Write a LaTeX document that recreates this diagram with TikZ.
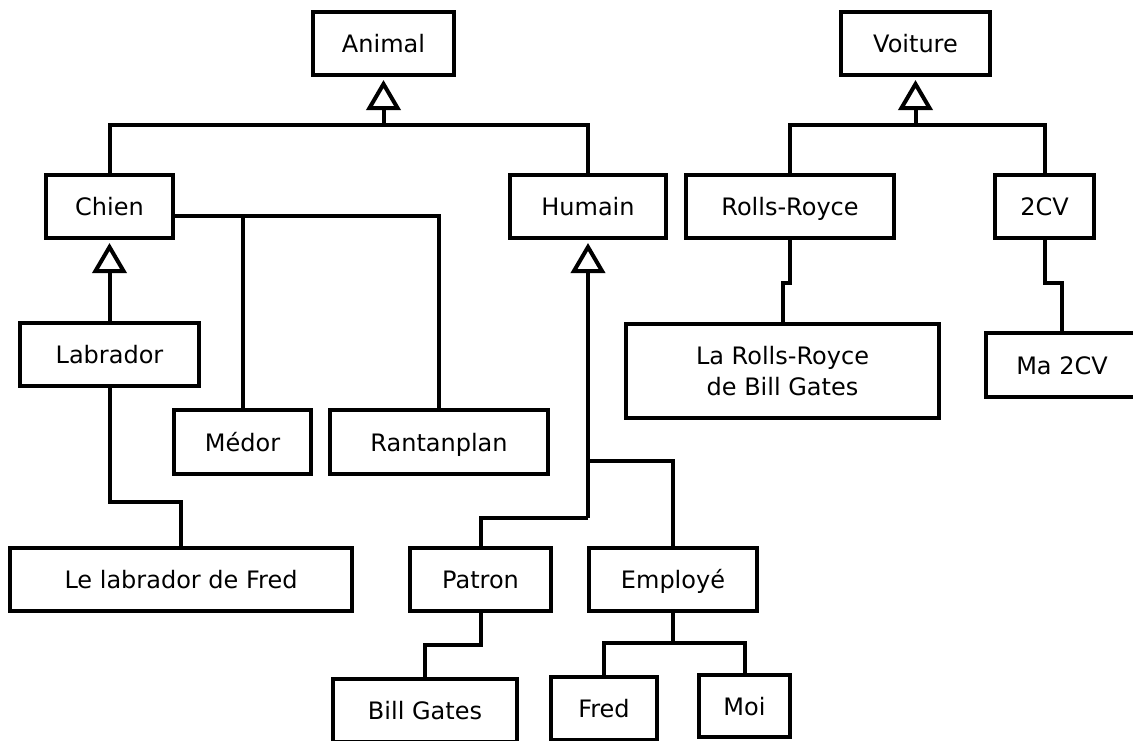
\documentclass[tikz,border=0pt]{standalone}
\usepackage{fontspec}
\setmainfont{DejaVu Sans}
\usetikzlibrary{arrows.meta}
\begin{document}
\begin{tikzpicture}[x=1pt,y=-1pt,
  boxbase/.style={draw,line width=4pt,inner sep=0pt,minimum height=63pt,align=center,
    font=\fontsize{24}{31}\selectfont},
  box/.style={boxbase,text height=18pt,text depth=0pt},
  link/.style={line width=4pt},
  gen/.style={line width=4pt,shorten >=3pt,-{Triangle[open,length=30pt,width=34pt,line width=4pt]}}]
\fill[white] (0,0) rectangle (1133,740);
\useasboundingbox (0,0) rectangle (1133,740);
\begin{scope}
\clip (0,0) rectangle (1133,740);
% nodes
\node[box,minimum width=141pt] (animal) at (383.5,43.5) {Animal};
\node[box,minimum width=149pt] (voiture) at (915.5,43.5) {Voiture};
\node[box,minimum width=127pt] (chien) at (109.5,206.5) {Chien};
\node[box,minimum width=156pt] (humain) at (588,206.5) {Humain};
\node[box,minimum width=208pt] (rolls) at (790,206.5) {Rolls-Royce};
\node[box,minimum width=99pt] (deuxcv) at (1044.5,206.5) {2CV};
\node[box,minimum width=179pt] (labrador) at (109.5,354.5) {Labrador};
\node[boxbase,minimum width=313pt,minimum height=94pt] (larolls) at (782.5,371) {La Rolls-Royce\\de Bill Gates};
\node[box,minimum width=152pt,minimum height=64pt] (madeuxcv) at (1062,365) {Ma 2CV};
\node[box,minimum width=137pt,minimum height=64pt] (medor) at (242.5,442) {Médor};
\node[box,minimum width=218pt,minimum height=64pt] (rantanplan) at (439,442) {Rantanplan};
\node[box,minimum width=342pt] (lelab) at (181,579.5) {Le labrador de Fred};
\node[box,minimum width=141pt] (patron) at (480.5,579.5) {Patron};
\node[box,minimum width=168pt] (employe) at (673,579.5) {Employé};
\node[box,minimum width=184pt] (billgates) at (425,710.5) {Bill Gates};
\node[box,minimum width=106pt] (fred) at (604,708.5) {Fred};
\node[box,minimum width=91pt,minimum height=62pt] (moi) at (744.5,706) {Moi};
% junctions
\coordinate (jA) at (383.5,125);
\coordinate (jV) at (915.5,125);
\coordinate (jC) at (242.5,216);
\coordinate (jL) at (181,502);
\coordinate (jH) at (588,518);
\coordinate (jH2) at (588,461);
\coordinate (jP) at (425,645);
\coordinate (jE) at (673,643);
\coordinate (jR) at (782.5,283);
\coordinate (j2) at (1062,283);
% Animal
\draw[link] (chien.north) |- (jA) -| (humain.north);
\draw[gen] (jA) -- (animal.south);
% Voiture
\draw[link] (rolls.north) |- (jV) -| (deuxcv.north);
\draw[gen] (jV) -- (voiture.south);
% Chien
\draw[gen] (labrador.north) -- (chien.south);
\draw[link] ([yshift=-9.5pt]chien.east) -| (rantanplan.north);
\draw[link] (jC) -- (medor.north);
\draw[link] (labrador.south) |- (jL) -- (lelab.north);
% Humain
\draw[gen] (jH) -- (humain.south);
\draw[link] (jH) -| (patron.north);
\draw[link] (jH2) -| (employe.north);
\draw[link] (patron.south) |- (jP) -- (billgates.north);
\draw[link] (employe.south) -- (jE);
\draw[link] (fred.north) |- (jE) -| (moi.north);
% cars
\draw[link] (rolls.south) |- (jR) -- (larolls.north);
\draw[link] (deuxcv.south) |- (j2) -- (madeuxcv.north);
\end{scope}
\end{tikzpicture}
\end{document}
